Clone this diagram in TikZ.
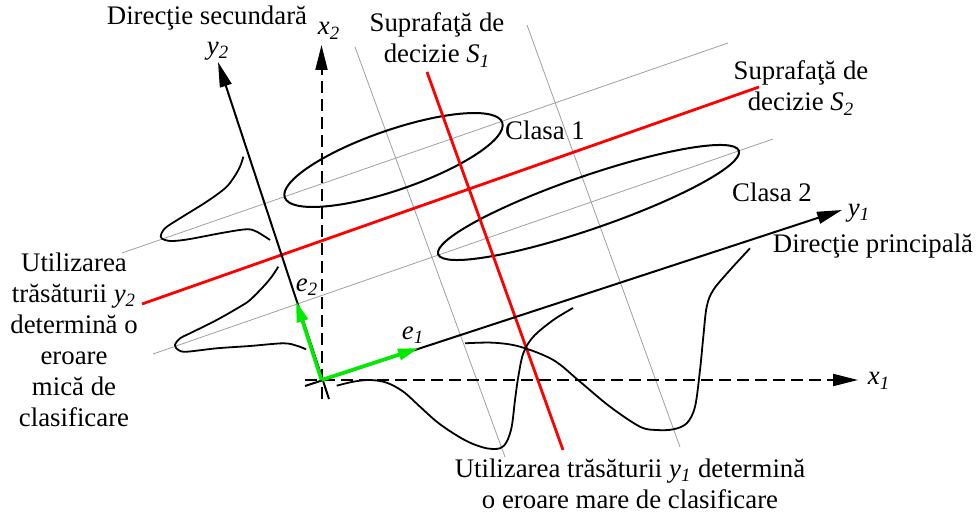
\documentclass[tikz,border=0pt]{standalone}
\usepackage{fontspec}
\setmainfont{Liberation Serif}
\usetikzlibrary{arrows.meta}
\definecolor{vgreen}{RGB}{0,235,0}
\newcommand{\iv}[2]{\textit{#1}\textsubscript{\textit{#2}}}
\begin{document}
\begin{tikzpicture}[x=0.5pt,y=-0.5pt,
  font=\fontsize{13.4}{15.5}\selectfont,
  grid/.style={draw=gray!75, line width=0.4pt},
  redline/.style={draw=red, line width=1.4pt},
  blk/.style={draw=black, line width=1pt},
  axisdash/.style={blk, dash pattern=on 6pt off 3pt},
  bigtip/.style={-{Triangle[length=12.5pt,width=6pt]}},
  greenvec/.style={draw=vgreen, line width=1.8pt, -{Triangle[length=10.5pt,width=5.5pt]}},
  curve/.style={blk, line width=0.9pt},
  lbl/.style={inner sep=0pt, align=center}]
\useasboundingbox (0,0) rectangle (977,512);

% coordinates
\coordinate (O) at (321.5,380);
\coordinate (G1a) at (122,253); \coordinate (G1b) at (728,43);
\coordinate (G2a) at (153,354); \coordinate (G2b) at (773,139);
\coordinate (G3a) at (355,47);  \coordinate (G3b) at (505,457);
\coordinate (G4a) at (527,25);  \coordinate (G4b) at (680,447);
\coordinate (S1a) at (427,72);  \coordinate (S1b) at (563,450);
\coordinate (S2a) at (142,304); \coordinate (S2b) at (759,87);
\coordinate (x1s) at (305,380); \coordinate (x1e) at (858,380);
\coordinate (x2s) at (321.5,399); \coordinate (x2e) at (321.5,45);
\coordinate (y1s) at (305,386); \coordinate (y1e) at (842,210);
\coordinate (y2s) at (329,399); \coordinate (y2e) at (218,62);
\coordinate (e1t) at (419,348); \coordinate (e2t) at (296,301);
\coordinate (C1) at (393.5,160); \coordinate (C2) at (588.5,202.5);

% grid lines
\draw[grid] (G1a) -- (G1b);
\draw[grid] (G2a) -- (G2b);
\draw[grid] (G3a) -- (G3b);
\draw[grid] (G4a) -- (G4b);

% class ellipses
\draw[blk, rotate around={19:(C1)}] (C1) ellipse [x radius=115, y radius=30];
\draw[blk, rotate around={19:(C2)}] (C2) ellipse [x radius=159, y radius=26.5];

% decision surfaces
\draw[redline] (S1a) -- (S1b);
\draw[redline] (S2a) -- (S2b);

% axes
\draw[axisdash, bigtip] (x1s) -- (x1e);
\draw[axisdash, bigtip] (x2s) -- (x2e);
\draw[blk, bigtip] (y1s) -- (y1e);
\draw[blk, bigtip] (y2s) -- (y2e);

% distributions along y2
\draw[curve] plot[smooth, tension=0.55] coordinates {(243.3,156.7) (240,166.7) (233.3,178.3) (225,188.3) (206.7,201.7) (180,218.3) (165,228.3) (160.7,236.7) (165,240) (173.3,241) (190,239) (223.3,232.7) (246.7,229.3) (256.7,231.7) (270,240)};
\draw[curve] plot[smooth, tension=0.55] coordinates {(278.3,266.7) (271.7,276.7) (263.3,286.7) (250,300) (240,306.7) (216.7,320) (190,333.3) (180,338.3) (175,345) (178.3,350) (186.7,351.7) (216.7,348.3) (250,346) (283.3,343.3) (296.7,345.7) (306,349.3)};

% distributions along y1
\draw[curve] plot[smooth, tension=0.55] coordinates {(336.7,385.7) (353.3,381.7) (370,380) (386.7,382.7) (403.3,391.7) (420,406.7) (436.7,421.7) (453.3,433.3) (470,442.7) (486.7,448.3) (500,448.3) (506.7,441.7) (511.7,426.7) (515,400) (518.3,376.7) (523.3,353.3) (533.3,336.7) (553.3,320) (573,308)};
\draw[curve] plot[smooth, tension=0.55] coordinates {(465,343.3) (493.3,342.7) (520,346.7) (553.3,360) (580,381.7) (610,406.7) (640,426.7) (656.7,430) (673.3,429.3) (686.7,423.3) (695,406.7) (700,370) (703.3,336.7) (706.7,306.7) (713.3,290) (730,270) (750,248.3)};

% basis vectors
\draw[greenvec] (O) -- (e1t);
\draw[greenvec] (O) -- (e2t);

% labels
\node[lbl] (dirsec) at (207,18) {Direcţie secundară};
\node[lbl] (y2lab) at (218,51) {\iv{y}{2}};
\node[lbl] (x2lab) at (329,31) {\iv{x}{2}};
\node[lbl] (s1lab) at (437,40) {Suprafaţă de\\decizie \iv{S}{1}};
\node[lbl] (s2lab) at (801,88) {Suprafaţă de\\decizie \iv{S}{2}};
\node[lbl] (cl1) at (545,130) {Clasa 1};
\node[lbl] (cl2) at (772,192) {Clasa 2};
\node[lbl] (y1lab) at (859,213) {\iv{y}{1}};
\node[lbl] (dirpr) at (873,246) {Direcţie principală};
\node[lbl] (x1lab) at (879,381) {\iv{x}{1}};
\node[lbl] (e1lab) at (413,335) {\iv{e}{1}};
\node[lbl] (e2lab) at (307,287) {\iv{e}{2}};
\node[lbl] (leftnote) at (74,340) {Utilizarea\\trăsăturii \iv{y}{2}\\determină o\\eroare\\mică de\\clasificare};
\node[lbl] (botnote) at (630,484) {Utilizarea trăsăturii \iv{y}{1} determină\\o eroare mare de clasificare};
\end{tikzpicture}
\end{document}
